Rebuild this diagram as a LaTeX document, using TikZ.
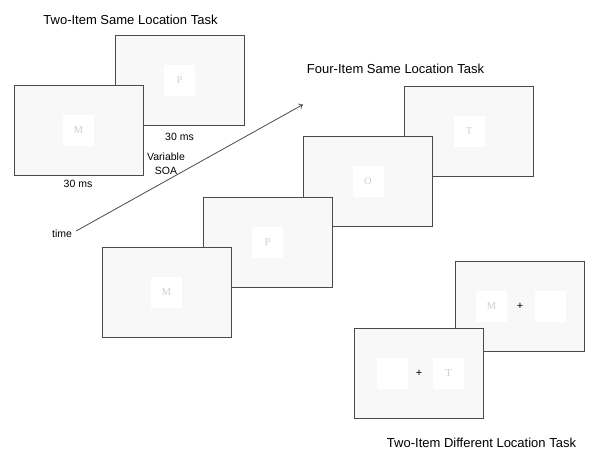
\documentclass[tikz,border=0pt]{standalone}
\usepackage{fontspec}
\usetikzlibrary{arrows.meta}
\setmainfont{Liberation Sans}
\newfontfamily\letterfont{Liberation Serif}
\definecolor{screenfill}{HTML}{F8F8F8}
\definecolor{screenedge}{HTML}{4A4A4A}
\definecolor{lettergray}{HTML}{CFCFCF}
\begin{document}
\begin{tikzpicture}[x=1pt,y=-1pt,
  screen/.style={draw=screenedge,line width=0.9pt,fill=screenfill,minimum width=129pt,minimum height=90pt,inner sep=0pt},
  stim/.style={fill=white,minimum width=31pt,minimum height=31pt,inner sep=0pt,text=lettergray,font=\letterfont\fontsize{10.5}{12}\selectfont},
  fix/.style={inner sep=0pt,font=\fontsize{11}{12}\selectfont},
  title/.style={font=\fontsize{13}{15}\selectfont,inner sep=0pt},
  lab/.style={font=\fontsize{10.5}{12.5}\selectfont,inner sep=0pt,align=center}]
\useasboundingbox (0,0) rectangle (600,455);
% Two-item same location
\node[title] (t1) at (130.5,20) {Two-Item Same Location Task};
\node[screen] (a2) at (179.5,80.5) {};
\node[stim] (a2s) at (a2.center) {P};
\node[screen] (a1) at (78.5,130.5) {};
\node[stim] (a1s) at (a1.center) {M};
\node[lab] (a2t) at (179.5,137) {30 ms};
\node[lab] (a1t) at (78,184) {30 ms};
\node[lab,font=\fontsize{10.5}{14}\selectfont] (soa) at (166,163.5) {Variable\\SOA};
% time arrow
\node[lab] (time) at (62,234) {time};
\coordinate (tend) at (303,104.5);
\draw[screenedge,line width=0.8pt,-{To[length=4pt,width=6pt]}] ([shift={(4pt,3pt)}]time.east) -- (tend);
% Four-item same location
\node[title] (t2) at (395.5,69) {Four-Item Same Location Task};
\node[screen] (b4) at (469,131) {};
\node[stim] (b4s) at (b4.center) {T};
\node[screen] (b3) at (368,181) {};
\node[stim] (b3s) at (b3.center) {O};
\node[screen] (b2) at (267.5,242.5) {};
\node[stim] (b2s) at (b2.center) {P};
\node[screen] (b1) at (166.5,292) {};
\node[stim] (b1s) at (b1.center) {M};
% Two-item different location
\node[screen] (c2) at (520,306) {};
\node[stim] (c2l) at ([xshift=-28.5pt]c2.center) {M};
\node[stim] (c2r) at ([xshift=30pt]c2.center) {};
\node[fix] (c2f) at (c2.center) {+};
\node[screen] (c1) at (419,373) {};
\node[stim] (c1l) at ([xshift=-27pt]c1.center) {};
\node[stim] (c1r) at ([xshift=29.5pt]c1.center) {T};
\node[fix] (c1f) at (c1.center) {+};
\node[title] (t3) at (481.5,443) {Two-Item Different Location Task};
\end{tikzpicture}
\end{document}
